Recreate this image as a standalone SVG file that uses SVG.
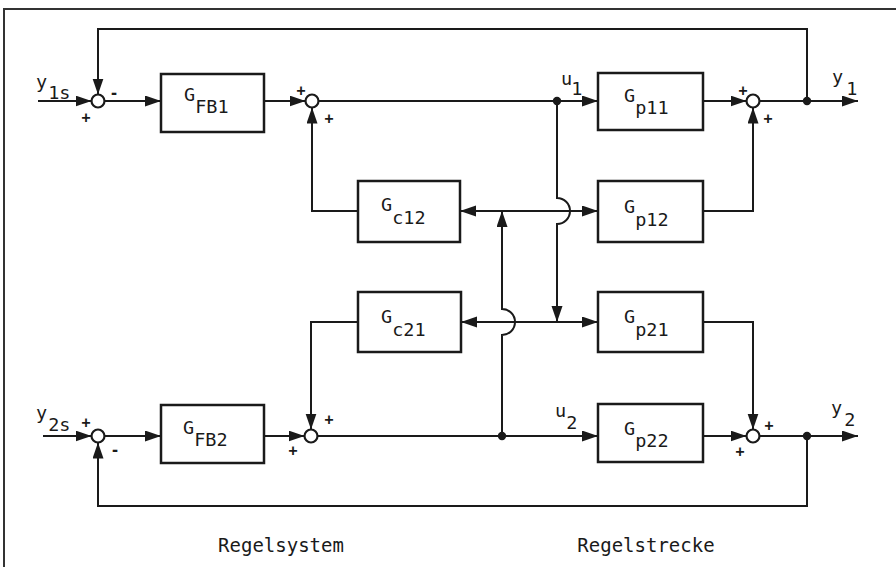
<svg xmlns="http://www.w3.org/2000/svg" width="896" height="567" viewBox="0 0 896 567">
<defs>
<marker id="ar" markerUnits="userSpaceOnUse" markerWidth="17" markerHeight="12" refX="16" refY="5.5" orient="auto">
<path d="M0,0 L16,5.5 L0,11 z" fill="#1a1a1a"/>
</marker>
<style>
.ln{fill:none;stroke:#1a1a1a;stroke-width:2}
.box{fill:#fff;stroke:#1a1a1a;stroke-width:2.5}
.sum{fill:#fff;stroke:#1a1a1a;stroke-width:2.2}
.dot{fill:#1a1a1a}
text{font-family:"DejaVu Sans Mono","Liberation Mono",monospace;fill:#1a1a1a}
.lbl{font-size:18.5px}
.sg{font-size:15px;font-weight:bold;text-anchor:middle}
.cap{font-size:19px;text-anchor:middle}
</style>
</defs>
<rect width="896" height="567" fill="#fff"/>
<path d="M4,567 V9 H896" fill="none" stroke="#333" stroke-width="2"/>

<g id="connectors">
<path class="ln" d="M38,101 H91.5" marker-end="url(#ar)"/>
<path class="ln" d="M104.5,101 H161" marker-end="url(#ar)"/>
<path class="ln" d="M264,101 H305.5" marker-end="url(#ar)"/>
<path class="ln" d="M318.5,101 H598" marker-end="url(#ar)"/>
<path class="ln" d="M703,101 H746.5" marker-end="url(#ar)"/>
<path class="ln" d="M759.5,101 H858" marker-end="url(#ar)"/>
<path class="ln" d="M807,101 V29 H98 V94.5" marker-end="url(#ar)"/>
<path class="ln" d="M358,211 H312 V107.5" marker-end="url(#ar)"/>
<path class="ln" d="M703,211 H753 V107.5" marker-end="url(#ar)"/>
<path class="ln" d="M557,101 V198 A13,13 0 0 1 557,224 V322" marker-end="url(#ar)"/>
<path class="ln" d="M557,322 H461" marker-end="url(#ar)"/>
<path class="ln" d="M557,322 H598" marker-end="url(#ar)"/>
<path class="ln" d="M502,211 H460" marker-end="url(#ar)"/>
<path class="ln" d="M502,211 H598" marker-end="url(#ar)"/>
<path class="ln" d="M502,436 V335 A13,13 0 0 0 502,309 V211" marker-end="url(#ar)"/>
<path class="ln" d="M358,322 H311 V429.5" marker-end="url(#ar)"/>
<path class="ln" d="M703,322 H753 V429.5" marker-end="url(#ar)"/>
<path class="ln" d="M43,436 H91.5" marker-end="url(#ar)"/>
<path class="ln" d="M104.5,436 H161" marker-end="url(#ar)"/>
<path class="ln" d="M264,436 H304.5" marker-end="url(#ar)"/>
<path class="ln" d="M317.5,436 H598" marker-end="url(#ar)"/>
<path class="ln" d="M703,436 H746.5" marker-end="url(#ar)"/>
<path class="ln" d="M759.5,436 H858" marker-end="url(#ar)"/>
<path class="ln" d="M807,436 V506 H98 V442.5" marker-end="url(#ar)"/>
<circle class="dot" cx="557" cy="101" r="4.2"/>
<circle class="dot" cx="807" cy="101" r="4.2"/>
<circle class="dot" cx="502" cy="436" r="4.2"/>
<circle class="dot" cx="807" cy="436" r="4.2"/>
</g>

<g id="sum1"><circle class="sum" cx="98" cy="101" r="6.5"/><text class="sg" x="86" y="123">+</text><text class="sg" x="114" y="98">-</text></g>
<g id="sum2"><circle class="sum" cx="312" cy="101" r="6.5"/><text class="sg" x="301" y="96">+</text><text class="sg" x="329" y="124">+</text></g>
<g id="sum3"><circle class="sum" cx="753" cy="101" r="6.5"/><text class="sg" x="743" y="96">+</text><text class="sg" x="768" y="124">+</text></g>
<g id="sum4"><circle class="sum" cx="311" cy="436" r="6.5"/><text class="sg" x="329" y="425">+</text><text class="sg" x="293" y="456">+</text></g>
<g id="sum5"><circle class="sum" cx="753" cy="436" r="6.5"/><text class="sg" x="769" y="431">+</text><text class="sg" x="740" y="457">+</text></g>
<g id="sum6"><circle class="sum" cx="98" cy="436" r="6.5"/><text class="sg" x="86" y="428">+</text><text class="sg" x="115" y="455">-</text></g>

<g id="GFB1"><rect class="box" x="161" y="74" width="103" height="58"/><text class="lbl" x="184" y="101">G<tspan dx="0" dy="12">FB1</tspan></text></g>
<g id="GFB2"><rect class="box" x="161" y="405" width="103" height="58"/><text class="lbl" x="183" y="434">G<tspan dx="0" dy="12">FB2</tspan></text></g>
<g id="Gc12"><rect class="box" x="358" y="181" width="102" height="61"/><text class="lbl" x="381" y="211">G<tspan dx="0" dy="13">c12</tspan></text></g>
<g id="Gc21"><rect class="box" x="358" y="292" width="103" height="60"/><text class="lbl" x="381" y="323">G<tspan dx="0" dy="13">c21</tspan></text></g>
<g id="Gp11"><rect class="box" x="598" y="73" width="105" height="57"/><text class="lbl" x="624" y="102">G<tspan dx="0" dy="12">p11</tspan></text></g>
<g id="Gp12"><rect class="box" x="598" y="181" width="105" height="61"/><text class="lbl" x="624" y="213">G<tspan dx="0" dy="13">p12</tspan></text></g>
<g id="Gp21"><rect class="box" x="598" y="292" width="105" height="60"/><text class="lbl" x="624" y="323">G<tspan dx="0" dy="13">p21</tspan></text></g>
<g id="Gp22"><rect class="box" x="598" y="404" width="105" height="58"/><text class="lbl" x="624" y="435">G<tspan dx="0" dy="12">p22</tspan></text></g>

<g id="labels">
<text class="lbl" x="36" y="88">y<tspan dx="1" dy="11">1s</tspan></text>
<text class="lbl" x="36" y="419">y<tspan dx="1" dy="12">2s</tspan></text>
<text class="lbl" x="561" y="85">u<tspan dx="-1" dy="10">1</tspan></text>
<text class="lbl" x="555" y="417">u<tspan dx="0" dy="12">2</tspan></text>
<text class="lbl" x="832" y="83">y<tspan dx="3" dy="12">1</tspan></text>
<text class="lbl" x="831" y="414">y<tspan dx="2" dy="12">2</tspan></text>
<text class="cap" x="281" y="552">Regelsystem</text>
<text class="cap" x="646" y="552">Regelstrecke</text>
</g>
</svg>
